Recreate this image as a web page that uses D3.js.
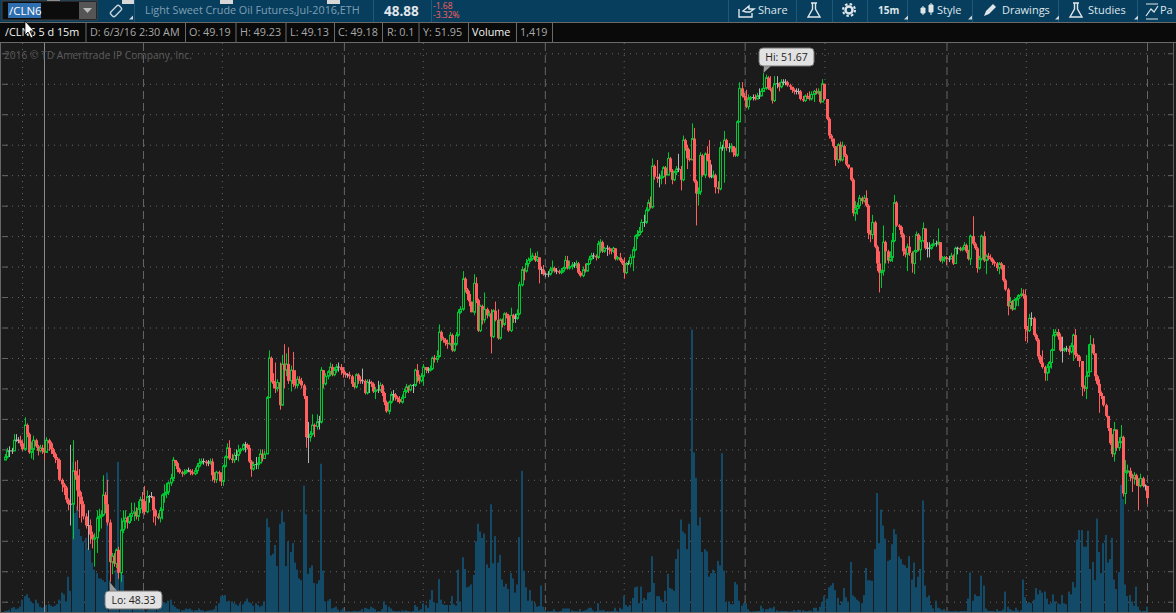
<!DOCTYPE html>
<html>
<head>
<meta charset="utf-8">
<title>/CLN6 5 d 15m</title>
<script src="https://cdn.jsdelivr.net/npm/d3@7"></script>
<style>
  html, body { margin: 0; background: #1b1b1b; overflow: hidden; }
  svg { display: block; font-family: "Open Sans", sans-serif; }
  .grid .domain { display: none; }
</style>
</head>
<body>
<svg id="chart" width="1176" height="613"></svg>
<script>
// 15m bars, prices in cents. Each bar opens where the one before it closed.
const firstOpen = 4913;
const closes = [
  4915,4919,4919,4919,4926,4926,4926,4924,4920,4936,
  4930,4918,4920,4926,4922,4919,4921,4919,4918,4926,
  4924,4920,4917,4914,4913,4900,4897,4895,4887,4884,
  4884,4906,4903,4893,4889,4884,4876,4870,4870,4864,
  4861,4862,4875,4876,4877,4890,4884,4872,4846,4850,
  4845,4854,4839,4867,4873,4875,4872,4876,4878,4879,
  4876,4881,4887,4886,4879,4889,4889,4889,4880,4876,
  4875,4880,4890,4891,4892,4898,4901,4913,4911,4907,
  4905,4904,4905,4906,4906,4905,4904,4906,4909,4911,
  4912,4912,4911,4911,4912,4903,4900,4905,4904,4899,
  4909,4915,4921,4914,4913,4916,4916,4919,4920,4923,
  4923,4921,4912,4907,4910,4910,4911,4917,4914,4917,
  4954,4980,4965,4963,4960,4964,4949,4976,4972,4976,
  4965,4972,4963,4962,4966,4965,4962,4955,4928,4928,
  4930,4936,4935,4938,4938,4972,4963,4968,4971,4974,
  4969,4972,4974,4974,4972,4970,4969,4969,4968,4963,
  4961,4969,4966,4965,4965,4957,4964,4964,4963,4958,
  4959,4959,4962,4957,4951,4945,4951,4956,4956,4954,
  4953,4951,4954,4958,4961,4959,4962,4962,4972,4968,
  4965,4968,4974,4972,4972,4973,4980,4979,4981,4997,
  4993,4992,4990,4989,4995,4985,4989,4995,5010,5012,
  5032,5025,5022,5017,5010,5029,5018,4998,5014,5005,
  5012,5008,5009,4994,5011,5005,4993,5005,5002,5009,
  5008,4998,5008,5006,5006,5009,5028,5038,5037,5042,
  5044,5045,5047,5044,5046,5038,5038,5035,5035,5035,
  5038,5039,5037,5037,5036,5037,5039,5044,5039,5040,
  5041,5041,5042,5036,5034,5038,5037,5042,5045,5047,
  5047,5046,5055,5056,5050,5052,5052,5051,5050,5052,
  5045,5046,5044,5042,5036,5042,5042,5046,5051,5060,
  5061,5063,5069,5069,5077,5082,5079,5106,5099,5098,
  5098,5099,5105,5100,5111,5103,5097,5102,5104,5104,
  5097,5123,5118,5111,5110,5124,5096,5088,5089,5113,
  5100,5114,5110,5099,5099,5100,5092,5091,5118,5118,
  5123,5118,5118,5119,5115,5113,5135,5157,5152,5151,
  5145,5150,5151,5151,5150,5152,5152,5155,5157,5164,
  5157,5156,5149,5160,5160,5158,5161,5161,5161,5159,
  5158,5156,5155,5155,5155,5150,5149,5152,5151,5150,
  5153,5155,5154,5155,5148,5160,5150,5137,5126,5124,
  5119,5110,5120,5110,5119,5113,5107,5105,5097,5075,
  5078,5080,5085,5083,5085,5080,5062,5061,5069,5053,
  5042,5036,5037,5056,5050,5044,5046,5057,5082,5067,
  5066,5061,5050,5048,5053,5049,5042,5050,5061,5051,
  5057,5065,5052,5052,5052,5054,5055,5055,5056,5044,
  5045,5046,5045,5045,5047,5042,5052,5052,5051,5052,
  5054,5050,5045,5060,5055,5052,5039,5045,5060,5044,
  5047,5046,5045,5043,5042,5039,5042,5041,5031,5025,
  5014,5017,5012,5018,5019,5021,5022,5021,4999,4998,
  5006,5006,4995,4992,4981,4977,4974,4970,4974,4977,
  4985,4995,4997,4994,4985,4985,4986,4986,4984,4988,
  4995,4982,4981,4978,4961,4960,4968,4971,4989,4983,
  4968,4963,4957,4955,4949,4942,4934,4924,4917,4933,
  4921,4925,4928,4891,4905,4906,4902,4901,4903,4900,
  4896,4901,4896,4896,4888
];
const highs = [
  4917,4921,4922,4921,4930,4930,4928,4929,4926,4941,
  4937,4931,4925,4929,4927,4923,4923,4923,4923,4928,
  4927,4925,4921,4918,4915,4914,4901,4898,4896,4888,
  4923,4926,4912,4913,4907,4892,4886,4878,4880,4874,
  4866,4865,4880,4881,4880,4903,4892,4900,4874,4852,
  4852,4855,4856,4875,4880,4880,4876,4878,4885,4885,
  4882,4886,4889,4892,4896,4893,4890,4892,4889,4881,
  4878,4882,4891,4897,4898,4899,4904,4915,4913,4912,
  4908,4906,4907,4907,4908,4907,4907,4908,4911,4914,
  4914,4914,4913,4913,4914,4914,4905,4906,4906,4905,
  4910,4916,4924,4926,4917,4918,4920,4923,4921,4924,
  4925,4924,4923,4913,4912,4915,4915,4920,4920,4919,
  4955,4985,4981,4970,4977,4966,4977,4982,4989,4983,
  4987,4975,4984,4972,4968,4968,4967,4963,4955,4938,
  4932,4943,4937,4943,4942,4974,4972,4970,4972,4977,
  4976,4974,4976,4977,4976,4974,4971,4970,4971,4969,
  4964,4970,4970,4968,4973,4966,4966,4966,4965,4964,
  4961,4965,4964,4963,4958,4952,4952,4958,4959,4957,
  4955,4955,4956,4960,4963,4962,4963,4963,4973,4976,
  4969,4970,4976,4974,4974,4975,4981,4982,4985,5002,
  4998,4994,4993,4992,4997,4996,4990,4997,5012,5014,
  5037,5033,5026,5024,5017,5035,5033,5019,5015,5015,
  5023,5013,5011,5012,5012,5017,5012,5006,5006,5010,
  5010,5009,5013,5009,5009,5012,5030,5040,5039,5045,
  5046,5052,5049,5049,5050,5045,5040,5041,5036,5037,
  5040,5044,5040,5039,5038,5039,5040,5047,5047,5044,
  5043,5043,5044,5043,5037,5040,5042,5042,5047,5049,
  5049,5048,5057,5058,5057,5053,5054,5053,5052,5053,
  5052,5047,5049,5045,5046,5043,5044,5048,5053,5061,
  5064,5066,5071,5074,5079,5084,5086,5111,5107,5110,
  5101,5103,5106,5106,5115,5112,5104,5103,5106,5114,
  5106,5126,5124,5120,5117,5134,5131,5097,5092,5115,
  5114,5115,5119,5123,5107,5103,5101,5096,5122,5120,
  5129,5124,5121,5121,5119,5118,5136,5161,5161,5154,
  5156,5153,5152,5153,5153,5154,5157,5157,5167,5166,
  5165,5165,5158,5165,5165,5161,5163,5163,5163,5162,
  5160,5158,5157,5157,5157,5156,5152,5153,5154,5155,
  5155,5156,5157,5157,5155,5163,5160,5150,5138,5127,
  5124,5119,5121,5122,5122,5120,5114,5107,5105,5098,
  5083,5082,5087,5086,5087,5090,5081,5064,5074,5070,
  5054,5050,5038,5067,5057,5051,5050,5062,5087,5083,
  5068,5067,5062,5052,5055,5060,5050,5051,5063,5062,
  5060,5069,5065,5056,5056,5055,5058,5057,5065,5056,
  5047,5047,5047,5047,5049,5048,5053,5053,5053,5053,
  5056,5055,5051,5061,5073,5056,5053,5047,5061,5063,
  5048,5049,5048,5046,5044,5043,5043,5043,5041,5032,
  5026,5020,5018,5019,5020,5022,5026,5025,5025,5001,
  5009,5010,5007,4996,4993,4982,4985,4975,4976,4978,
  4986,4999,4999,4999,4996,4994,4987,4988,4988,4990,
  4996,4999,4983,4982,4978,4962,4982,4989,4995,4993,
  4983,4969,4966,4958,4955,4950,4942,4934,4930,4938,
  4933,4928,4936,4929,4913,4910,4908,4904,4905,4904,
  4901,4904,4902,4897,4896
];
const lows = [
  4913,4914,4915,4917,4919,4925,4924,4922,4919,4919,
  4928,4917,4914,4913,4921,4916,4918,4917,4913,4918,
  4919,4917,4915,4911,4907,4899,4892,4890,4885,4880,
  4870,4861,4900,4880,4875,4872,4874,4868,4854,4858,
  4855,4843,4852,4866,4868,4876,4878,4870,4833,4838,
  4843,4842,4835,4833,4865,4868,4868,4871,4873,4873,
  4874,4873,4878,4878,4877,4878,4885,4888,4872,4870,
  4874,4872,4874,4885,4888,4890,4896,4899,4909,4905,
  4904,4902,4903,4904,4905,4903,4903,4903,4904,4908,
  4910,4910,4909,4909,4910,4899,4898,4898,4899,4896,
  4896,4908,4914,4913,4911,4911,4913,4912,4917,4919,
  4918,4920,4911,4902,4906,4907,4907,4912,4912,4915,
  4917,4954,4964,4960,4957,4958,4946,4949,4960,4968,
  4963,4958,4961,4960,4960,4963,4960,4953,4921,4911,
  4925,4929,4928,4933,4933,4937,4960,4962,4966,4968,
  4968,4968,4970,4971,4969,4967,4967,4967,4966,4961,
  4960,4960,4963,4963,4963,4956,4956,4957,4961,4957,
  4953,4957,4958,4955,4949,4944,4943,4950,4952,4952,
  4951,4950,4950,4954,4957,4957,4958,4957,4961,4964,
  4963,4964,4962,4970,4970,4971,4972,4977,4977,4980,
  4991,4990,4988,4986,4988,4984,4984,4988,4994,5009,
  5011,5023,5018,5014,5010,5008,5016,4997,4997,5002,
  5003,5006,5007,4983,4993,5004,4992,4992,5000,5001,
  5006,4997,4997,5003,5003,5005,5008,5027,5031,5036,
  5040,5043,5044,5043,5043,5029,5035,5034,5033,5033,
  5034,5036,5036,5035,5035,5035,5036,5038,5038,5038,
  5038,5039,5039,5035,5033,5033,5036,5037,5041,5044,
  5045,5044,5045,5049,5049,5049,5047,5048,5048,5049,
  5044,5044,5043,5041,5032,5035,5041,5040,5037,5050,
  5058,5060,5062,5066,5068,5076,5078,5078,5097,5095,
  5092,5094,5098,5094,5100,5102,5094,5096,5100,5102,
  5090,5096,5116,5104,5109,5110,5095,5067,5080,5087,
  5099,5098,5109,5098,5098,5098,5088,5088,5090,5116,
  5095,5116,5115,5115,5112,5112,5112,5135,5151,5149,
  5144,5143,5149,5149,5149,5150,5150,5152,5155,5156,
  5156,5155,5147,5148,5157,5155,5157,5159,5159,5158,
  5156,5154,5153,5153,5153,5149,5148,5148,5150,5149,
  5149,5148,5153,5153,5147,5148,5149,5136,5124,5122,
  5118,5106,5108,5109,5109,5112,5106,5104,5096,5073,
  5070,5074,5078,5081,5082,5079,5058,5056,5058,5052,
  5037,5023,5026,5034,5042,5042,5043,5043,5056,5066,
  5064,5059,5047,5046,5037,5047,5036,5035,5049,5050,
  5044,5056,5051,5046,5046,5051,5053,5053,5054,5043,
  5042,5043,5041,5043,5045,5041,5042,5048,5050,5050,
  5051,5049,5044,5041,5054,5051,5036,5038,5044,5043,
  5035,5044,5044,5041,5040,5037,5035,5038,5030,5024,
  5008,5012,5011,5012,5014,5014,5020,5019,4991,4990,
  4997,5001,4994,4991,4979,4976,4973,4965,4965,4970,
  4973,4985,4994,4992,4984,4977,4984,4984,4982,4983,
  4978,4980,4978,4974,4955,4958,4953,4969,4973,4982,
  4965,4962,4944,4953,4948,4941,4932,4923,4915,4912,
  4919,4919,4924,4889,4884,4904,4899,4892,4897,4896,
  4880,4895,4895,4893,4884
];
// volume in hundreds of contracts
const volumes = [
  3,4,6,12,14,8,10,15,35,45,
  50,40,30,25,35,25,15,12,14,20,
  22,18,15,18,22,35,55,50,30,100,
  60,425,280,300,235,215,200,210,180,175,
  140,120,110,95,95,90,85,395,90,60,
  50,120,425,120,105,45,30,25,15,10,
  12,8,15,10,5,4,8,10,15,12,
  12,18,20,28,25,32,35,20,15,10,
  8,5,5,10,8,10,6,5,5,10,
  5,5,3,4,5,5,8,18,25,45,
  45,48,30,32,30,25,22,18,25,22,
  30,38,28,25,18,25,20,15,18,30,
  265,240,160,165,190,130,250,285,255,130,
  200,170,195,140,120,95,90,358,277,108,
  125,132,82,80,90,420,117,30,32,37,
  10,12,15,7,5,10,3,2,3,2,
  3,3,2,4,8,12,10,8,15,12,
  8,3,2,8,30,20,15,10,4,3,
  2,3,5,3,5,3,2,3,20,15,
  5,8,25,20,12,35,62,28,25,93,
  35,22,20,20,20,45,22,18,120,30,
  155,122,70,72,78,105,200,250,228,210,
  222,135,125,305,138,215,140,162,92,72,
  80,65,110,95,55,78,212,400,117,70,
  32,62,32,25,15,17,75,15,5,3,
  2,3,8,2,2,3,10,10,10,10,
  5,3,2,2,8,3,5,7,12,12,
  5,3,25,5,5,5,3,2,2,3,
  12,3,12,8,45,20,15,20,40,70,
  72,25,72,40,35,55,57,158,82,45,
  45,35,28,60,108,68,65,60,150,178,
  262,228,222,178,250,800,452,380,245,268,
  170,178,172,100,110,120,110,145,132,450,
  117,28,30,22,22,85,78,32,18,25,
  25,8,2,2,2,3,3,18,10,8,
  8,12,10,15,5,2,3,3,3,3,
  2,2,6,2,6,6,5,3,2,4,
  4,12,12,3,15,28,45,38,70,75,
  82,62,40,20,30,68,42,30,142,47,
  42,35,30,25,48,125,90,90,88,178,
  337,195,290,245,208,145,148,192,235,220,
  157,150,135,132,125,158,92,140,70,100,
  122,316,75,42,47,20,10,32,12,10,
  5,8,3,3,2,2,3,3,3,3,
  3,3,38,112,32,50,45,45,103,75,
  10,4,3,3,3,8,3,3,7,58,
  15,8,5,3,12,5,5,92,42,25,
  28,25,35,68,50,62,55,58,38,22,
  25,50,30,25,22,48,25,22,58,50,
  85,70,205,232,232,185,185,230,122,142,
  90,265,170,110,195,218,140,150,210,92,
  65,113,360,320,78,45,48,30,18,72,
  15,5,3,3,15
];
const priceTicks = [4820,4840,4860,4880,4900,4920,4940,4960,4980,5000,5020,5040,5060,5080,
  5100,5120,5140,5160,5180];
const sessionBreaks = [63.3,155.5,247.7,339.4,432,524];
const midSessions = [7.8,99.5,191.7,283.9,376,468.4];
const cursorBar = 18;
const lowBar = 48;
const highBar = 348;

const infoCells = ['/CLN6 5 d 15m','D: 6/3/16 2:30 AM','O: 49.19','H: 49.23','L: 49.13','C: 49.18',
  'R: 0.1','Y: 51.95','Volume','1,419'];
const infoLeft = [5,90,189,240,290,338,387,423,472,520];
const infoSeps = [85.5,185,235.5,285.5,334,382,418.5,468,516,552];
const topSeps = [134,373,431,728,796,832,867,907,972,1058,1137];
const cornerMarks = [129,904,968,1055,1134];
const tabMarks = [47,122,220,327];

const width = 1176, height = 613, axisRightX = 1173;
const x = d3.scaleLinear().domain([0, closes.length - 1]).range([5, 1147]);
const y = d3.scaleLinear().domain([4820, 5180]).range([601.7, 53.3]);
const yVol = d3.scaleLinear().domain([0, 810]).range([612, 326]);

const RED = '#ff5f5f', GREEN = '#00c832', GRAY = '#b4b4b4', BG = '#1b1b1b';
const svg = d3.select('#chart');

svg.append('rect').attr('width', width).attr('height', height).attr('fill', BG);

// grid
const gridY = svg.append('g').attr('class', 'grid').call(
  d3.axisLeft(y).tickValues(priceTicks).tickSize(-1168).tickFormat(''));
gridY.selectAll('line')
  .attr('stroke', '#666').attr('stroke-dasharray', '1 5');
const edgeL = svg.append('g').attr('class', 'grid').attr('transform', 'translate(8,0)').call(
  d3.axisLeft(y).tickValues(priceTicks).tickSize(6).tickFormat(''));
edgeL.selectAll('line').attr('stroke', '#666');
const edgeR = svg.append('g').attr('class', 'grid').attr('transform', `translate(${axisRightX},0)`).call(
  d3.axisLeft(y).tickValues(priceTicks).tickSize(5).tickFormat(''));
edgeR.selectAll('line').attr('stroke', '#666');
svg.append('line').attr('x1', axisRightX + 0.5).attr('x2', axisRightX + 0.5)
  .attr('y1', 43).attr('y2', 612).attr('stroke', '#5c5c5c');

const vertAxis = (vals, dash, color) => {
  const g = svg.append('g').attr('class', 'grid').attr('transform', 'translate(0,43)').call(
    d3.axisBottom(x).tickValues(vals).tickSize(569).tickFormat(''));
  g.selectAll('line').attr('stroke', color).attr('stroke-dasharray', dash);
};
vertAxis(sessionBreaks, '8 4', '#666');
vertAxis(midSessions, '1 5', '#666');

// volume
svg.append('g').selectAll('rect')
  .data(volumes)
  .enter()
  .append('rect')
  .attr('x', (_, i) => Math.round(x(i)) - 1)
  .attr('width', 2)
  .attr('y', d => yVol(d))
  .attr('height', d => yVol(0) - yVol(d))
  .attr('fill', '#134a68');

// crosshair behind candles
svg.append('line')
  .attr('x1', Math.round(x(cursorBar)) + 0.5).attr('x2', Math.round(x(cursorBar)) + 0.5)
  .attr('y1', 43).attr('y2', 612)
  .attr('stroke', '#8a8a8a');

// candles
const opens = closes.map((_, i) => (i === 0 ? firstOpen : closes[i - 1]));
const bars = d3.range(closes.length).map(i => ({
  i, o: opens[i], h: highs[i], l: lows[i], c: closes[i],
}));
const barColor = d => (d.c > d.o ? GREEN : d.c < d.o ? RED : GRAY);

const candle = svg.append('g').selectAll('g')
  .data(bars)
  .enter()
  .append('g')
  .attr('transform', d => `translate(${Math.round(x(d.i))},0)`);

candle.append('line')
  .attr('x1', 0.5).attr('x2', 0.5)
  .attr('y1', d => y(Math.max(d.h, d.o, d.c)))
  .attr('y2', d => y(Math.min(d.l, d.o, d.c)))
  .attr('stroke', barColor);

candle.filter(d => d.c < d.o)
  .append('rect')
  .attr('x', -1).attr('width', 3)
  .attr('y', d => y(d.o))
  .attr('height', d => y(d.c) - y(d.o))
  .attr('fill', RED);

candle.filter(d => d.c > d.o)
  .append('rect')
  .attr('x', -0.5).attr('width', 2)
  .attr('y', d => y(d.c))
  .attr('height', d => y(d.o) - y(d.c))
  .attr('fill', BG)
  .attr('stroke', GREEN);

candle.filter(d => d.c === d.o)
  .append('line')
  .attr('x1', -1).attr('x2', 2)
  .attr('y1', d => y(d.c)).attr('y2', d => y(d.c))
  .attr('stroke', GRAY);

// copyright
svg.append('text').attr('x', 4).attr('y', 59)
  .attr('font-size', 10.2).attr('fill', '#5c5c5c')
  .text('2016 \u00a9 TD Ameritrade IP Company, Inc.');

// hi / lo bubbles
function bubble(bx, by, w, label, tipX, tipY) {
  const g = svg.append('g');
  g.append('path')
    .attr('d', `M${bx + 5},${by + (tipY > by ? 17 : 1)}L${tipX},${tipY}L${bx + 13},${by + (tipY > by ? 17 : 1)}Z`)
    .attr('fill', '#9a9a9a');
  g.append('rect').attr('x', bx).attr('y', by).attr('width', w).attr('height', 18).attr('rx', 4)
    .attr('fill', '#e2e2e2').attr('stroke', '#777');
  g.append('text').attr('x', bx + w / 2).attr('y', by + 13).attr('text-anchor', 'middle')
    .attr('font-size', 10.5).attr('fill', '#222').text(label);
}
bubble(759, 48, 55, 'Hi: 51.67', x(highBar), y(highs[highBar]));
bubble(105, 591, 57, 'Lo: 48.33', x(lowBar), y(lows[lowBar]));

// top toolbar
const bar = svg.append('g');
bar.append('rect').attr('width', width).attr('height', 22).attr('fill', '#073e5e');
bar.append('line').attr('x1', 0).attr('x2', width).attr('y1', 22.5).attr('y2', 22.5).attr('stroke', '#6a6a6a');
bar.selectAll('rect.tab').data(tabMarks).enter().append('rect').attr('class', 'tab')
  .attr('x', d => d).attr('y', 0).attr('width', 13).attr('height', 4).attr('fill', '#d8d8d8');
bar.selectAll('line.sep').data(topSeps).enter().append('line').attr('class', 'sep')
  .attr('x1', d => d + 0.5).attr('x2', d => d + 0.5).attr('y1', 0).attr('y2', 22).attr('stroke', '#1d5878');
bar.selectAll('path.corner').data(cornerMarks).enter().append('path').attr('class', 'corner')
  .attr('d', d => `M${d},19.5h4v-4z`).attr('fill', '#d0d8dc');

bar.append('rect').attr('x', 2).attr('y', 1).attr('width', 95).attr('height', 19).attr('fill', '#0c0c0c').attr('stroke', '#444');
bar.append('rect').attr('x', 8).attr('y', 3).attr('width', 33).attr('height', 15).attr('fill', '#2f6fb0');
bar.append('text').attr('x', 9).attr('y', 15).attr('font-size', 11.5).attr('fill', '#fff').text('/CLN6');
bar.append('rect').attr('x', 79).attr('y', 2).attr('width', 17).attr('height', 17).attr('fill', '#555');
bar.append('path').attr('d', 'M83,8h9l-4.5,5z').attr('fill', '#bbb');
bar.append('g').attr('transform', 'translate(116,11) rotate(-45)')
  .append('rect').attr('x', -6).attr('y', -3).attr('width', 12).attr('height', 6).attr('rx', 2)
  .attr('fill', 'none').attr('stroke', '#c8d4da').attr('stroke-width', 1.4);
bar.append('text').attr('x', 145).attr('y', 13.5).attr('font-size', 10.8).attr('fill', '#7f9fb2')
  .text('Light Sweet Crude Oil Futures,Jul-2016,ETH');
bar.append('text').attr('x', 384).attr('y', 15.5).attr('font-size', 13.5).attr('font-weight', 700).attr('fill', '#e0e6ea').text('48.88');
bar.append('text').attr('x', 433).attr('y', 9).attr('font-size', 8.5).attr('fill', '#ff5f5f').text('-1.68');
bar.append('text').attr('x', 433).attr('y', 18).attr('font-size', 8.5).attr('fill', '#ff5f5f').text('-3.32%');

const toolLabels = [['Share', 758, 400], ['15m', 878, 700], ['Style', 937, 400], ['Drawings', 1002, 400], ['Studies', 1088, 400], ['Pa', 1160, 400]];
bar.selectAll('text.tool').data(toolLabels).enter().append('text').attr('class', 'tool')
  .attr('x', d => d[1]).attr('y', 14).attr('font-size', d => (d[0] === '15m' ? 10 : 11))
  .attr('font-weight', d => d[2]).attr('fill', '#dfe6ea').text(d => d[0]);

const icon = '#dfe6ea';
bar.append('path').attr('d', 'M739,9v8h13v-4M743,11l6,-5v3h5l-4,3h-4z').attr('fill', 'none').attr('stroke', icon).attr('stroke-width', 1.4);
[814, 1076].forEach(fx => bar.append('path')
  .attr('d', `M${fx - 3},3h6M${fx - 1.5},3v6l-4.5,8h12l-4.5,-8v-6`)
  .attr('fill', 'none').attr('stroke', icon).attr('stroke-width', 1.4));
bar.append('circle').attr('cx', 849).attr('cy', 10).attr('r', 3.5).attr('fill', 'none').attr('stroke', icon).attr('stroke-width', 2.5);
bar.append('circle').attr('cx', 849).attr('cy', 10).attr('r', 6).attr('fill', 'none').attr('stroke', icon).attr('stroke-width', 2).attr('stroke-dasharray', '2.5 2.2');
bar.append('path').attr('d', 'M923,6v9M923,8h-2v5h4v-5zM931,3v12M929,5h4v7h-4z').attr('fill', icon).attr('stroke', icon);
bar.append('path').attr('d', 'M984,16l2,-5l7,-7l3,3l-7,7z').attr('fill', icon);
bar.append('path').attr('d', 'M1146,4h12M1146,16l5,-7l3,3l4,-6M1146,19h12').attr('fill', 'none').attr('stroke', icon).attr('stroke-width', 1.2);

// info strip
const info = svg.append('g');
info.append('rect').attr('y', 23).attr('width', width).attr('height', 20).attr('fill', '#0a0a0a');
info.append('line').attr('x1', 0).attr('x2', width).attr('y1', 42.5).attr('y2', 42.5).attr('stroke', '#6a6a6a');
info.selectAll('line.sep').data(infoSeps).enter().append('line').attr('class', 'sep')
  .attr('x1', d => d + 0.5).attr('x2', d => d + 0.5).attr('y1', 23).attr('y2', 42).attr('stroke', '#6a6a6a');
info.selectAll('text').data(infoCells).enter().append('text')
  .attr('x', (_, i) => infoLeft[i]).attr('y', 36)
  .attr('font-size', 10.8)
  .attr('fill', d => (d[0] === '/' || d === 'Volume' ? '#f2f2f2' : '#a8a8a8'))
  .text(d => d);

// frame and mouse pointer
svg.append('line').attr('x1', 0.5).attr('x2', 0.5).attr('y1', 43).attr('y2', 613).attr('stroke', '#666');
svg.append('line').attr('x1', 0).attr('x2', width).attr('y1', 612.5).attr('y2', 612.5).attr('stroke', '#666');
svg.append('path').attr('d', 'M25,21v14l3,-3l3,6l2,-1l-3,-6h4z').attr('fill', '#fff').attr('stroke', '#000').attr('stroke-width', 0.8);
</script>
</body>
</html>
